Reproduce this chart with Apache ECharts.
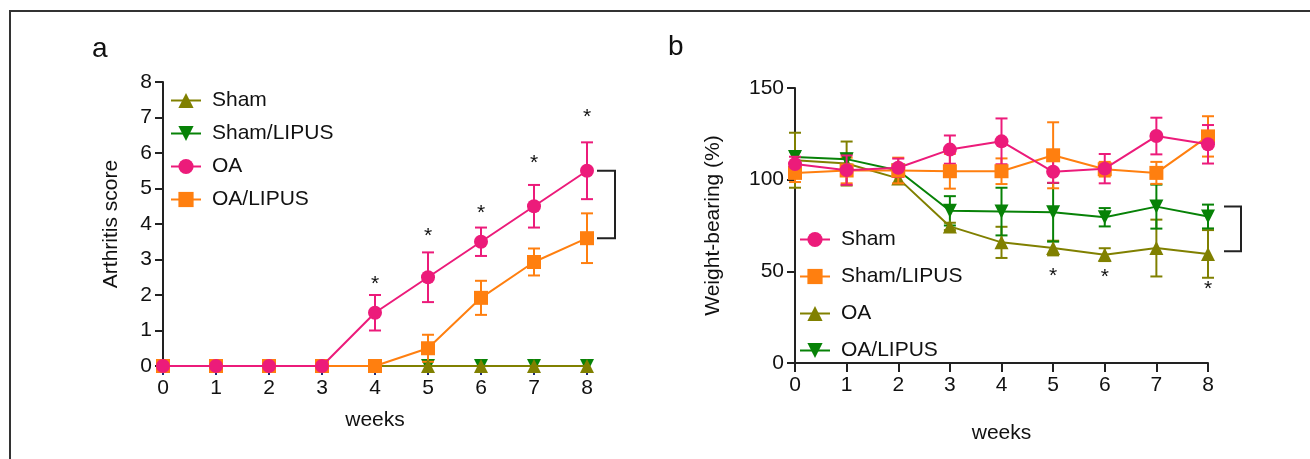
<!DOCTYPE html>
<html><head><meta charset="utf-8">
<script src="https://cdn.jsdelivr.net/npm/echarts@6/dist/echarts.min.js"></script>
<style>html,body{margin:0;padding:0;background:#fff}#c{width:1310px;height:459px}</style>
</head><body><div id="c"></div>
<script>
const weeks = [0,1,2,3,4,5,6,7,8];
const seriesNames = ['Sham','Sham/LIPUS','OA','OA/LIPUS'];
// Panel a: arthritis score
const aSham       = [0,0,0,0,0,0,0,0,0];
const aShamLipus  = [0,0,0,0,0,0,0,0,0];
const aOA         = [0,0,0,0,1.5,2.5,3.5,4.5,5.5];
const aOAErr      = [0,0,0,0,0.5,0.7,0.4,0.6,0.8];
const aOALipus    = [0,0,0,0,0,0.5,1.92,2.93,3.6];
const aOALipusErr = [0,0,0,0,0,0.38,0.48,0.38,0.7];
const aStarWeeks  = [4,5,6,7,8];
const aStarY      = [2.3,3.65,4.3,5.7,7.0];
const aBracket    = [5.5,3.6];
const aYTicks     = [0,8,1];
// Panel b: weight-bearing
const bSham       = [108.5,105.2,106.5,116.4,120.9,104.3,106.0,123.8,119.3];
const bShamErr    = [4,8,5,7.7,12.5,6,8,10,10.5];
const bShamLipus  = [103.7,105.0,105.0,104.6,104.6,113.3,105.7,103.7,123.6];
const bShamLipusErr = [5,7,7,9.5,7,18,4,6,11];
const bOA         = [110.6,108.8,100.7,74.5,65.8,62.7,59.1,62.7,59.5];
const bOAErr      = [15,12,3,2,8.5,4,3.5,15.5,13];
const bOALipus    = [112.4,111.2,105.0,83.0,82.6,82.2,79.5,85.3,79.9];
const bOALipusErr = [3,3,3,8,13,16,5,12,6.5];
const bStarWeeks  = [5,6,8];
const bStarY      = [47.4,47,40.5];
const bBracket    = [85.3,60.9];
const bYTicks     = [0,150,50];

const C = {pink:'#EC1B7A', orange:'#FF7F0F', olive:'#808000', green:'#078207'};
const FONT = 'Liberation Sans, Arial, sans-serif';

function pts(arr){ return weeks.map((w,i)=>[w,arr[i]]); }
function errData(m,e){ return weeks.map((w,i)=>[w,m[i]-e[i],m[i]+e[i]]); }
function errSeries(m,e,color,ai,z){
  return {type:'custom', name:'errorbar', xAxisIndex:ai, yAxisIndex:ai, z:z, silent:true,
    data: errData(m,e),
    renderItem:function(p,api){
      const x=api.value(0), lo=api.value(1), hi=api.value(2);
      if(hi-lo<=0) return;
      const a=api.coord([x,lo]), b=api.coord([x,hi]); const w=6;
      const st={stroke:color,lineWidth:2};
      return {type:'group',children:[
        {type:'line',shape:{x1:a[0],y1:a[1],x2:b[0],y2:b[1]},style:st},
        {type:'line',shape:{x1:a[0]-w,y1:a[1],x2:a[0]+w,y2:a[1]},style:st},
        {type:'line',shape:{x1:b[0]-w,y1:b[1],x2:b[0]+w,y2:b[1]},style:st}]};
    }};
}
function lineSeries(name,data,color,symbol,ai,z,rot){
  return {type:'line', name:name, xAxisIndex:ai, yAxisIndex:ai, z:z, data:pts(data),
    symbol:symbol, symbolSize:14, symbolRotate:rot||0, showSymbol:true,
    lineStyle:{color:color,width:2}, itemStyle:{color:color}, animation:false};
}
function starSeries(xs,ys,ai){
  return {type:'custom', name:'stars', xAxisIndex:ai, yAxisIndex:ai, z:20, silent:true,
    data: xs.map((x,i)=>[x,ys[i]]),
    renderItem:function(p,api){
      const c=api.coord([api.value(0),api.value(1)]);
      return {type:'text',x:c[0],y:c[1],style:{text:'*',fontSize:21,fontFamily:FONT,fill:'#111',align:'center',verticalAlign:'middle'}};
    }};
}
function bracketSeries(br,ai,off1,off2){
  return {type:'custom', name:'bracket', xAxisIndex:ai, yAxisIndex:ai, z:20, silent:true, clip:false,
    data:[[weeks[weeks.length-1],br[0],br[1]]],
    renderItem:function(p,api){
      const t=api.coord([api.value(0),api.value(1)]), b=api.coord([api.value(0),api.value(2)]);
      return {type:'polyline',shape:{points:[[t[0]+off1,t[1]],[t[0]+off2,t[1]],[t[0]+off2,b[1]],[t[0]+off1,b[1]]]},
        style:{stroke:'#222',lineWidth:2,fill:null}};
    }};
}
function xAx(gi,gap,tickColor){
  return {type:'value',gridIndex:gi,min:0,max:8,interval:1,name:'weeks',nameLocation:'middle',nameGap:gap,
    nameTextStyle:{fontSize:21,fontFamily:FONT,color:'#111'},
    axisLine:{lineStyle:{color:tickColor,width:2}},
    axisTick:{length:9,lineStyle:{color:tickColor,width:2}},
    axisLabel:{fontSize:21,fontFamily:FONT,color:'#111',margin:12},splitLine:{show:false}};
}
function yAx(gi,t,name,gap){
  return {type:'value',gridIndex:gi,min:t[0],max:t[1],interval:t[2],name:name,nameLocation:'middle',nameGap:gap,
    nameTextStyle:{fontSize:21,fontFamily:FONT,color:'#111'},
    axisLine:{show:true,lineStyle:{color:'#222',width:2}},
    axisTick:{show:true,length:8,lineStyle:{color:'#222',width:2}},
    axisLabel:{fontSize:21,fontFamily:FONT,color:'#111',margin:11},splitLine:{show:false}};
}
const legendBase = {orient:'vertical',itemWidth:30,itemHeight:19,
  textStyle:{fontSize:21,fontFamily:FONT,color:'#111',padding:[0,0,0,6]},formatter:n=>n.split('|')[1],selectedMode:false};

const option = {
  animation:false,
  backgroundColor:'#fff',
  title:[
    {text:'a',left:87,top:30,textStyle:{fontSize:28,fontWeight:'normal',fontFamily:FONT,color:'#111'}},
    {text:'b',left:663,top:28,textStyle:{fontSize:28,fontWeight:'normal',fontFamily:FONT,color:'#111'}}
  ],
  graphic:[
    {type:'polyline',shape:{points:[[10,459],[10,11],[1310,11]]},style:{stroke:'#333',lineWidth:2,fill:null}}
  ],
  grid:[
    {left:163,top:82,width:424,height:284},
    {left:795,top:88,width:413,height:275}
  ],
  xAxis:[xAx(0,44,'#1f2a78'),xAx(1,60,'#222')],
  yAxis:[yAx(0,aYTicks,'Arthritis score',41),yAx(1,bYTicks,'Weight-bearing (%)',71)],
  legend:[
    Object.assign({},legendBase,{left:165,top:85,itemGap:12,data:seriesNames.map(n=>'a|'+n)}),
    Object.assign({},legendBase,{left:794,top:224,itemGap:16,data:seriesNames.map(n=>'b|'+n)})
  ],
  series:[
    // panel a
    lineSeries('a|Sham/LIPUS',aShamLipus,C.green,'triangle',0,3,180),
    lineSeries('a|Sham',aSham,C.olive,'triangle',0,4),
    errSeries(aOALipus,aOALipusErr,C.orange,0,4),
    lineSeries('a|OA/LIPUS',aOALipus,C.orange,'rect',0,5),
    errSeries(aOA,aOAErr,C.pink,0,5),
    lineSeries('a|OA',aOA,C.pink,'circle',0,6),
    starSeries(aStarWeeks,aStarY,0),
    bracketSeries(aBracket,0,10,28),
    // panel b
    errSeries(bOA,bOAErr,C.olive,1,2),
    lineSeries('b|OA',bOA,C.olive,'triangle',1,3),
    errSeries(bOALipus,bOALipusErr,C.green,1,3),
    lineSeries('b|OA/LIPUS',bOALipus,C.green,'triangle',1,4,180),
    errSeries(bShamLipus,bShamLipusErr,C.orange,1,4),
    lineSeries('b|Sham/LIPUS',bShamLipus,C.orange,'rect',1,5),
    errSeries(bSham,bShamErr,C.pink,1,5),
    lineSeries('b|Sham',bSham,C.pink,'circle',1,6),
    starSeries(bStarWeeks,bStarY,1),
    bracketSeries(bBracket,1,16,33)
  ]
};
const chart = echarts.init(document.getElementById('c'),null,{renderer:'canvas'});
chart.setOption(option);
</script></body></html>
